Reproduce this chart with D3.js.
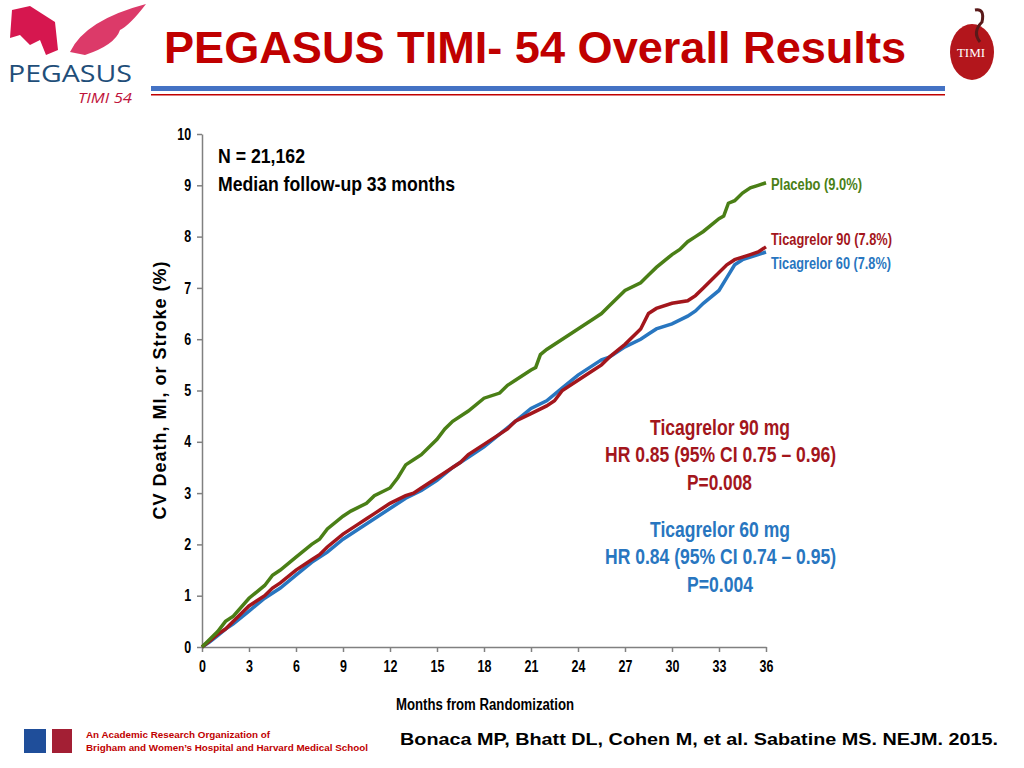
<!DOCTYPE html><html><head><meta charset="utf-8"><script src="https://cdn.jsdelivr.net/npm/d3@7/dist/d3.min.js"></script>
<style>body{margin:0;background:#fff}svg{display:block}</style></head><body><svg id="c" width="1024" height="768"></svg>
<script>
const xTicks=[0,3,6,9,12,15,18,21,24,27,30,33,36];
const yTicks=[0,1,2,3,4,5,6,7,8,9,10];
const placeboM=[0,0.5,1,1.5,2,3,4,4.5,5,6,7,7.5,8,9,9.5,10.5,11,12,12.5,13,13.5,14,15,15.5,16,17,18,19,19.5,20,21,21.3,21.6,22,23,24,25,25.5,26,27,28,28.5,29,30,30.5,31,31.5,32,33,33.3,33.6,34,34.5,35,35.5,36];
const placeboV=[0,0.15,0.3,0.5,0.6,0.95,1.2,1.4,1.5,1.75,2.0,2.1,2.3,2.55,2.65,2.8,2.95,3.1,3.3,3.55,3.65,3.75,4.05,4.25,4.4,4.6,4.85,4.95,5.1,5.2,5.4,5.45,5.7,5.8,6.0,6.2,6.4,6.5,6.65,6.95,7.1,7.25,7.4,7.65,7.75,7.9,8.0,8.1,8.35,8.4,8.65,8.7,8.85,8.95,9.0,9.05];
const tic90M=[0,0.5,1,1.5,2,3,4,4.5,5,6,7,7.5,8,9,10,10.5,11,12,13,13.5,14,15,16,16.5,17,18,19,19.5,20,21,22,22.5,23,24,25,25.5,26,27,28,28.5,29,30,31,31.5,32,33,33.5,34,34.5,35,35.5,36];
const tic90V=[0,0.12,0.25,0.35,0.5,0.8,1.0,1.15,1.25,1.5,1.7,1.8,1.95,2.2,2.4,2.5,2.6,2.8,2.95,3.0,3.1,3.3,3.5,3.6,3.75,3.95,4.15,4.25,4.4,4.55,4.7,4.8,5.0,5.2,5.4,5.5,5.65,5.9,6.2,6.5,6.6,6.7,6.75,6.85,7.0,7.3,7.45,7.55,7.6,7.65,7.7,7.8];
const tic60M=[0,0.5,1,1.5,2,3,4,5,6,7,8,9,10,11,12,13,14,15,16,17,18,19,20,21,22,23,24,25,25.5,26,27,28,28.5,29,30,31,31.5,32,33,33.5,34,34.5,35,35.5,36];
const tic60V=[0,0.1,0.22,0.35,0.45,0.7,0.95,1.15,1.4,1.65,1.85,2.1,2.3,2.5,2.7,2.9,3.05,3.25,3.5,3.7,3.9,4.15,4.4,4.65,4.8,5.05,5.3,5.5,5.6,5.65,5.85,6.0,6.1,6.2,6.3,6.45,6.55,6.7,6.95,7.2,7.45,7.55,7.6,7.65,7.7];
const series=[{m:tic60M,v:tic60V,c:"#2876c0",label:"Ticagrelor 60 (7.8%)",ly:269,w:120},
{m:tic90M,v:tic90V,c:"#a3161c",label:"Ticagrelor 90 (7.8%)",ly:245,w:121},
{m:placeboM,v:placeboV,c:"#4a7f16",label:"Placebo (9.0%)",ly:190,w:91}];
const svg=d3.select("#c");
const F="'Liberation Sans',Arial,sans-serif";
const x=d3.scaleLinear().domain([0,36]).range([202,766]);
const y=d3.scaleLinear().domain([0,10]).range([647,134]);
const T=(t,xx,yy,sz,c,anc,w)=>{const e=svg.append("text").attr("x",xx).attr("y",yy).attr("font-family",F).attr("font-weight","bold").attr("font-size",sz).attr("fill",c).attr("text-anchor",anc||"start").text(t);if(w)e.attr("textLength",w).attr("lengthAdjust","spacingAndGlyphs");return e;};
// header
T("PEGASUS TIMI- 54 Overall Results",164,63,44,"#c00000","start",742);
svg.append("rect").attr("x",151).attr("y",86).attr("width",794).attr("height",5).attr("fill","#4472c4");
svg.append("rect").attr("x",151).attr("y",94).attr("width",794).attr("height",1.5).attr("fill","#c00000");
// pegasus logo
svg.append("path").attr("d","M12,10 L30,6 L55,22 L58,50 L46,55 L40,40 L30,45 L20,35 L10,38 Z").attr("fill","#d6174f");
svg.append("path").attr("d","M70,52 Q85,20 146,4 Q130,25 120,30 Q115,45 85,55 Z").attr("fill","#d6174f").attr("opacity",0.85);
svg.append("text").attr("x",8).attr("y",82).attr("font-family","'Open Sans',sans-serif").attr("font-size",23).attr("fill","#1f4e79").attr("textLength",124).attr("lengthAdjust","spacingAndGlyphs").text("PEGASUS");
svg.append("text").attr("x",78).attr("y",103).attr("font-family","'Open Sans',sans-serif").attr("font-style","italic").attr("font-size",14).attr("fill","#c0143c").attr("textLength",54).attr("lengthAdjust","spacingAndGlyphs").text("TIMI 54");
// TIMI logo
svg.append("ellipse").attr("cx",972).attr("cy",52).attr("rx",22).attr("ry",28).attr("fill","#b3161c");
svg.append("path").attr("d","M975,10 Q985,8 982,22 Q972,32 980,42").attr("fill","none").attr("stroke","#5a1a1a").attr("stroke-width",3);
svg.append("text").attr("x",971).attr("y",57).attr("text-anchor","middle").attr("font-family","'Liberation Serif',serif").attr("font-size",13).attr("fill","#fff").text("TIMI");
// axes
const g=svg.append("g");
const ax=g.append("g").attr("transform","translate(0,647)").call(d3.axisBottom(x).tickValues(xTicks).tickSize(5).tickSizeOuter(0));
const ay=g.append("g").attr("transform","translate(202,0)").call(d3.axisLeft(y).tickValues(yTicks).tickSize(5).tickSizeOuter(0));
[ax,ay].forEach(a=>{a.selectAll("path,line").attr("stroke","#808080").attr("stroke-width",1.5);a.selectAll("text").attr("font-family",F).attr("font-weight","bold").attr("font-size",16).attr("fill","#000").attr("transform","scale(0.78,1)");});
ax.selectAll("text").attr("dy","1.05em");
ay.selectAll("text").attr("x",-14);
// lines
series.forEach(s=>{
  const pts=s.m.map((m,i)=>[m,s.v[i]]);
  g.append("path").attr("d",d3.line().x(d=>x(d[0])).y(d=>y(d[1]))(pts)).attr("fill","none").attr("stroke",s.c).attr("stroke-width",3.5);
  T(s.label,771,s.ly,16,s.c,"start",s.w);
});
T("N = 21,162",218,163,21,"#000","start",87);
T("Median follow-up 33 months",218,191,21,"#000","start",237);
T("Ticagrelor 90 mg",650,435,22,"#a3161c","start",140);
T("HR 0.85 (95% CI 0.75 – 0.96)",605,462,22,"#a3161c","start",231);
T("P=0.008",687,490,22,"#a3161c","start",65);
T("Ticagrelor 60 mg",650,537,22,"#2876c0","start",140);
T("HR 0.84 (95% CI 0.74 – 0.95)",605,564,22,"#2876c0","start",231);
T("P=0.004",687,592,22,"#2876c0","start",66);
T("Months from Randomization",396,710,16,"#000","start",178);
svg.append("text").attr("transform","translate(166,390) rotate(-90)").attr("text-anchor","middle").attr("font-family",F).attr("font-weight","bold").attr("font-size",18).attr("letter-spacing",1).text("CV Death, MI, or Stroke (%)");
// footer
svg.append("rect").attr("x",24).attr("y",729).attr("width",22).attr("height",24).attr("fill","#1f4e9a");
svg.append("rect").attr("x",52).attr("y",729).attr("width",20).attr("height",24).attr("fill","#a31f34");
T("An Academic Research Organization of",86,738,9.5,"#c00000","start",184);
T("Brigham and Women’s Hospital and Harvard Medical School",86,751,9.5,"#c00000","start",282);
T("Bonaca MP, Bhatt DL, Cohen M, et al. Sabatine MS. NEJM. 2015.",400,745,17,"#000","start",598);
</script></body></html>
